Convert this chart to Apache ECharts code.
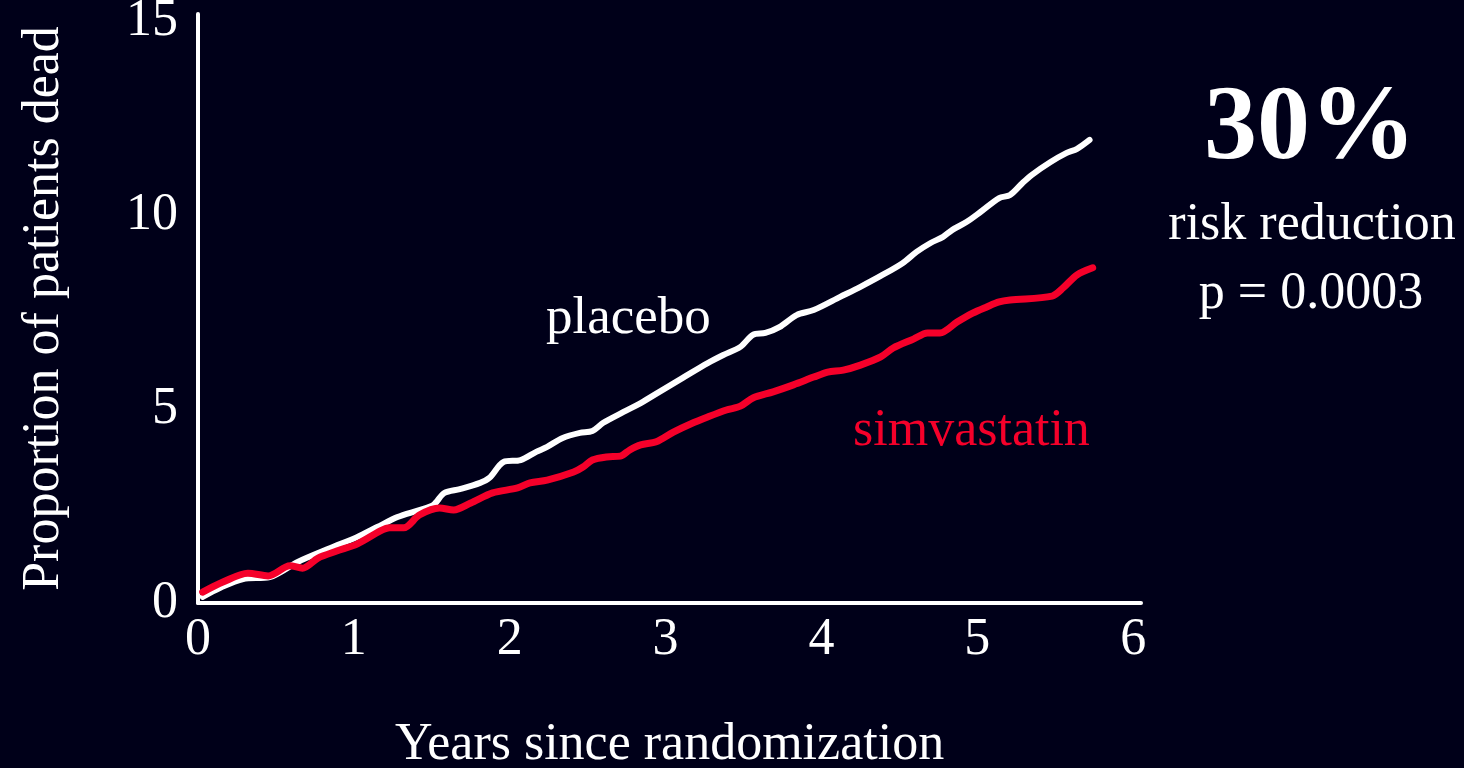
<!DOCTYPE html>
<html>
<head>
<meta charset="utf-8">
<title>Proportion of patients dead</title>
<script src="https://cdn.jsdelivr.net/npm/echarts@6/dist/echarts.min.js"></script>
<style>
  html, body { margin: 0; padding: 0; background: #000019; }
  #chart { width: 1464px; height: 768px; }
</style>
</head>
<body>
<div id="chart"></div>
<script>
// years since randomization, percent dead
const placebo = [
  [0.03, 0.16], [0.14, 0.39], [0.29, 0.62], [0.46, 0.67], [0.64, 1.06], [0.85, 1.42],
  [1.02, 1.70], [1.15, 1.96], [1.28, 2.22], [1.42, 2.40], [1.51, 2.53], [1.58, 2.84],
  [1.68, 2.94], [1.81, 3.10], [1.87, 3.23], [1.96, 3.64], [2.07, 3.69], [2.17, 3.90],
  [2.24, 4.03], [2.34, 4.26], [2.45, 4.39], [2.53, 4.44], [2.60, 4.65], [2.73, 4.93],
  [2.84, 5.16], [2.96, 5.45], [3.11, 5.81], [3.27, 6.19], [3.37, 6.40], [3.48, 6.61],
  [3.56, 6.92], [3.64, 6.97], [3.73, 7.12], [3.84, 7.43], [3.95, 7.56], [4.12, 7.90],
  [4.25, 8.16], [4.38, 8.44], [4.52, 8.77], [4.61, 9.06], [4.70, 9.29], [4.78, 9.45],
  [4.84, 9.63], [4.93, 9.83], [5.02, 10.09], [5.14, 10.45], [5.21, 10.53], [5.29, 10.84],
  [5.35, 11.05], [5.47, 11.38], [5.57, 11.61], [5.64, 11.72], [5.72, 11.95]
];
const simvastatin = [
  [0.03, 0.28], [0.16, 0.54], [0.32, 0.77], [0.45, 0.70], [0.59, 0.96], [0.67, 0.90],
  [0.77, 1.16], [0.89, 1.34], [1.02, 1.52], [1.17, 1.86], [1.23, 1.94], [1.32, 1.94],
  [1.42, 2.27], [1.55, 2.45], [1.64, 2.40], [1.75, 2.58], [1.89, 2.84], [2.05, 2.97],
  [2.13, 3.10], [2.24, 3.17], [2.41, 3.38], [2.47, 3.51], [2.53, 3.69], [2.62, 3.77],
  [2.71, 3.79], [2.77, 3.95], [2.84, 4.08], [2.94, 4.16], [3.05, 4.41], [3.16, 4.62],
  [3.27, 4.80], [3.39, 4.98], [3.48, 5.08], [3.56, 5.29], [3.69, 5.45], [3.82, 5.63],
  [3.95, 5.83], [4.04, 5.96], [4.14, 6.01], [4.25, 6.14], [4.38, 6.35], [4.46, 6.58],
  [4.59, 6.81], [4.68, 6.97], [4.76, 6.97], [4.87, 7.25], [4.97, 7.48], [5.06, 7.64],
  [5.14, 7.77], [5.21, 7.82], [5.48, 7.92], [5.55, 8.13], [5.64, 8.47], [5.74, 8.65]
];
const xTicks = [0, 1, 2, 3, 4, 5, 6];
const yTicks = [0, 5, 10, 15];
const headline = ['30%', 'risk reduction', 'p = 0.0003'];

const serif = '"Liberation Serif", "Times New Roman", "DejaVu Serif", serif';
const red = '#f5002a';
const chart = echarts.init(document.getElementById('chart'));

chart.setOption({
  backgroundColor: '#000019',
  animation: false,
  textStyle: { fontFamily: serif },
  grid: { left: 198, top: 14, right: 323, bottom: 165, containLabel: false, outerBoundsMode: 'none' },
  xAxis: {
    type: 'value',
    min: xTicks[0],
    max: 6.05,
    interval: 1,
    name: 'Years since randomization',
    nameLocation: 'middle',
    nameGap: 116,
    nameTextStyle: { color: '#fff', fontSize: 52, fontFamily: serif },
    axisLine: { show: true, onZero: false, lineStyle: { color: '#fff', width: 4 } },
    axisTick: { show: false },
    splitLine: { show: false },
    axisLabel: {
      color: '#fff', fontSize: 52, fontFamily: serif, margin: 11,
      formatter: v => xTicks.indexOf(v) >= 0 ? String(v) : ''
    }
  },
  yAxis: {
    type: 'value',
    min: yTicks[0],
    max: 15.2,
    interval: 5,
    name: 'Proportion of patients dead',
    nameLocation: 'middle',
    nameGap: 128,
    nameTextStyle: { color: '#fff', fontSize: 52, fontFamily: serif },
    axisLine: { show: true, lineStyle: { color: '#fff', width: 4 } },
    axisTick: { show: false },
    splitLine: { show: false },
    axisLabel: {
      color: '#fff', fontSize: 52, fontFamily: serif, margin: 20,
      formatter: v => yTicks.indexOf(v) >= 0 ? String(v) : ''
    }
  },
  series: [
    {
      name: 'placebo',
      type: 'line',
      data: placebo,
      smooth: 0.3,
      showSymbol: false,
      lineStyle: { color: '#fff', width: 6, cap: 'round', join: 'round' }
    },
    {
      name: 'simvastatin',
      type: 'line',
      data: simvastatin,
      smooth: 0.3,
      showSymbol: false,
      lineStyle: { color: red, width: 7, cap: 'round', join: 'round' }
    }
  ],
  graphic: [
    { type: 'text', left: 546, top: 293, style: { text: 'placebo', fill: '#fff', font: '53px ' + serif } },
    { type: 'text', left: 853, top: 405, style: { text: 'simvastatin', fill: red, font: '52px ' + serif } },
    { type: 'text', x: 1310, y: 131, style: { text: headline[0], fill: '#fff', font: 'bold 106px ' + serif, align: 'center', verticalAlign: 'middle' } },
    { type: 'text', x: 1312, y: 225, style: { text: headline[1], fill: '#fff', font: '52px ' + serif, align: 'center', verticalAlign: 'middle' } },
    { type: 'text', x: 1311, y: 294, style: { text: headline[2], fill: '#fff', font: '52px ' + serif, align: 'center', verticalAlign: 'middle' } }
  ]
});
</script>
</body>
</html>
